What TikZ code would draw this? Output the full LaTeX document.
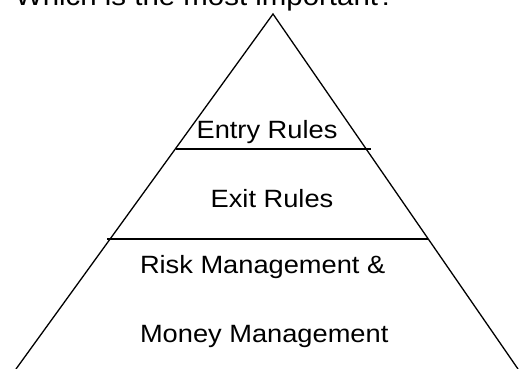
\documentclass[tikz,border=0pt]{standalone}
\usepackage{fontspec}
\setmainfont{Liberation Sans}
\newcommand{\wtext}[2]{\scalebox{1.09}[1]{\fontsize{#1}{#1}\selectfont #2}}
\tikzset{
  edge/.style={line width=1.3pt, black},
  lbl/.style={inner sep=0pt, outer sep=0pt},
}
\begin{document}
\begin{tikzpicture}[x=1pt,y=-1pt]
\useasboundingbox (0,0) rectangle (519,369);
\clip (0,0) rectangle (519,369);
\coordinate (apex) at (273,14);
\coordinate (bl) at (16,369);
\coordinate (br) at (518,369);
\coordinate (e1) at (176,149);
\coordinate (e2) at (371,149);
\coordinate (x1) at (107,239);
\coordinate (x2) at (428,239);
\draw[edge, line join=miter] (bl) -- (apex) -- (br);
\draw[edge] (e1) -- (e2);
\draw[edge] (x1) -- (x2);
\node[lbl, anchor=base west] (title) at (15,6) {\wtext{27pt}{Which is the most important?}};
\node[lbl, anchor=base] (entry) at (267,138) {\wtext{25pt}{Entry Rules}};
\node[lbl, anchor=base] (exit) at (272,207) {\wtext{25pt}{Exit Rules}};
\node[lbl, anchor=base west] (risk) at (140,273) {\wtext{25pt}{Risk Management \&}};
\node[lbl, anchor=base west] (money) at (140,342) {\wtext{25pt}{Money Management}};
\end{tikzpicture}
\end{document}
